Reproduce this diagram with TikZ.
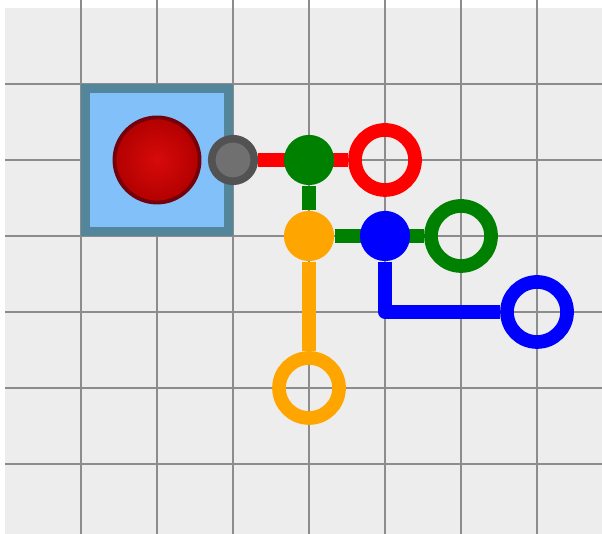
\documentclass[tikz,border=0pt]{standalone}
\usetikzlibrary{backgrounds}
\definecolor{PanelGray}{RGB}{237,237,237}
\definecolor{GridGray}{RGB}{140,140,140}
\definecolor{BoxBlue}{RGB}{130,192,250}
\definecolor{BoxEdge}{RGB}{84,134,155}
\definecolor{LampRed}{RGB}{215,10,10}
\definecolor{LampDark}{RGB}{178,0,0}
\definecolor{LampRim}{RGB}{115,0,10}
\definecolor{PortDark}{RGB}{82,82,82}
\definecolor{PortLight}{RGB}{112,112,112}
\definecolor{WireRed}{RGB}{255,0,0}
\definecolor{WireGreen}{RGB}{0,128,0}
\definecolor{WireOrange}{RGB}{255,165,0}
\definecolor{WireBlue}{RGB}{0,0,255}
\pgfdeclarelayer{wires}
\pgfsetlayers{background,wires,main}
\tikzset{
  gridline/.style={line width=0.5pt,draw=GridGray},
  srcbox/.style={draw=BoxEdge,fill=BoxBlue,line width=0.118cm,
    minimum size=1.882cm,inner sep=0pt},
  lamp/.style={circle,draw=LampRim,line width=0.05cm,inner color=LampRed,
    outer color=LampDark,minimum size=1.12cm,inner sep=0pt},
  port/.style={circle,draw=PortDark,fill=PortLight,line width=0.1cm,
    minimum size=0.56cm,inner sep=0pt},
  joint/.style={circle,minimum size=0.66cm,inner sep=0pt},
  ring/.style={circle,line width=0.18cm,minimum size=0.79cm,inner sep=0pt},
  wire/.style={line width=0.18cm,line join=round}
}

\begin{document}
\begin{tikzpicture}
  \useasboundingbox (-0.066,0.105) rectangle (7.855,-6.921);
  \begin{pgfonlayer}{background}
    \fill[white] (-0.066,0.105) rectangle (7.855,-6.921);
    \fill[PanelGray] (0,0) rectangle (7.855,-6.921);
    \foreach \x in {1,...,7}
      \draw[gridline] (\x,0.105) -- (\x,-6.921);
    \foreach \y in {1,...,6}
      \draw[gridline] (0,-\y) -- (7.855,-\y);
  \end{pgfonlayer}

  % source box
  \node[srcbox] (panel) at (2,-2) {};
  \node[lamp] (bulb) at (2,-2) {};
  \node[port] (out) at (3,-2) {};

  % junctions
  \node[joint,fill=WireGreen] (gjoint) at (4,-2) {};
  \node[joint,fill=WireOrange] (ojoint) at (4,-3) {};
  \node[joint,fill=WireBlue] (bjoint) at (5,-3) {};

  % open ends
  \node[ring,draw=WireRed] (rend) at (5,-2) {};
  \node[ring,draw=WireGreen] (gend) at (6,-3) {};
  \node[ring,draw=WireOrange] (oend) at (4,-5) {};
  \node[ring,draw=WireBlue] (bend) at (7,-4) {};

  \begin{pgfonlayer}{wires}
    \draw[wire,WireRed] (out) -- (rend);
    \draw[wire,WireGreen] (gjoint) -- (ojoint);
    \draw[wire,WireGreen] (ojoint) -- (gend);
    \draw[wire,WireOrange] (ojoint) -- (oend);
    \draw[wire,WireBlue] (bjoint) |- (bend);
  \end{pgfonlayer}
\end{tikzpicture}
\end{document}
